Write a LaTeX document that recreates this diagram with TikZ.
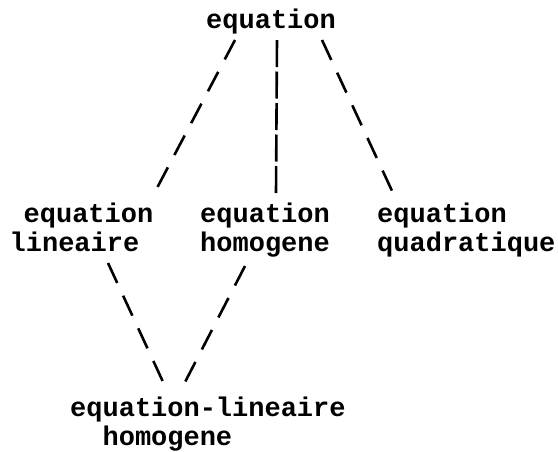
\documentclass[tikz,border=0pt]{standalone}
\usepackage{fontspec}
\setmonofont{Liberation Mono}

\begin{document}
\begin{tikzpicture}[
    x=1pt, y=1pt,
    every node/.style={font=\ttfamily\bfseries\fontsize{27}{29}\selectfont, inner sep=0pt},
    term/.style={anchor=base west, align=left},
    link/.style={line width=2.6pt, dash pattern=on 22pt off 14pt},
    isa/.style={line width=2.6pt, dash pattern=on 27pt off 4.5pt}
]
\useasboundingbox (0,0) rectangle (558,-451);

% --- Concepts (placed at the baseline of their last line) ---
\node[term] (eq) at (206,-28) {equation};
\node[term] (lin) at (9.5,-251) {\hspace{14pt}equation\\lineaire};
\node[term] (hom) at (200,-251) {equation\\homogene};
\node[term] (quad) at (377,-251) {equation\\quadratique};
\node[term] (linhom) at (70,-445) {equation-lineaire\\\hspace{1.2em}homogene};

% --- Links ---
\draw[link] ([shift={(29,-12)}]eq.base west) -- ([shift={(147.5,63)}]lin.base west);
\draw[isa] ([shift={(71,-12)}]eq.base west) -- ([shift={(76,58)}]hom.base west);
\draw[link] ([shift={(116,-12)}]eq.base west) -- ([shift={(16,58)}]quad.base west);
\draw[link] ([shift={(98.5,-12)}]lin.base west) -- ([shift={(94,61)}]linhom.base west);
\draw[link] ([shift={(45,-15)}]hom.base west) -- ([shift={(113,59)}]linhom.base west);
\end{tikzpicture}
\end{document}
